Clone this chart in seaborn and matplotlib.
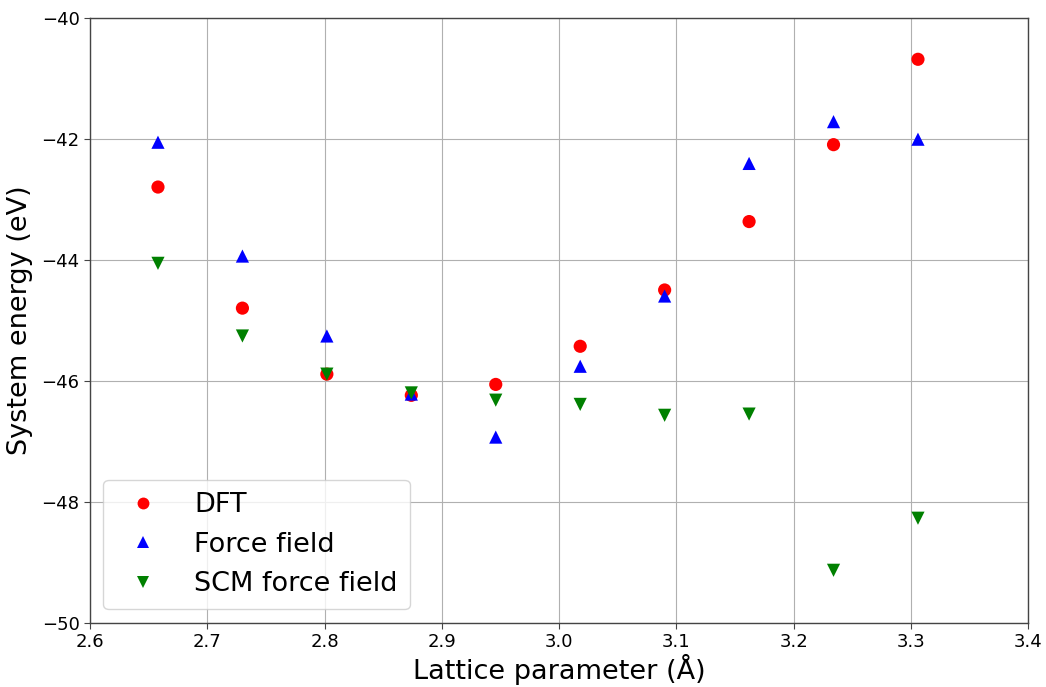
import numpy as np
import pandas as pd
import matplotlib
matplotlib.use("Agg")
import matplotlib.pyplot as plt
import seaborn as sns

lattice = [2.658, 2.730, 2.802, 2.874, 2.946, 3.018, 3.090, 3.162, 3.234, 3.306]
dft = [-42.80, -44.80, -45.89, -46.24, -46.06, -45.43, -44.50, -43.37, -42.10, -40.69]
force_field = [-42.06, -43.94, -45.26, -46.22, -46.93, -45.76, -44.60, -42.41, -41.72, -42.01]
scm_force_field = [-44.06, -45.26, -45.89, -46.20, -46.32, -46.39, -46.57, -46.55, -49.13, -48.27]

series_names = ["DFT", "Force field", "SCM force field"]
df = pd.DataFrame({
    "x": lattice * 3,
    "y": dft + force_field + scm_force_field,
    "series": np.repeat(series_names, len(lattice)),
})

sns.set_style("white")
plt.rcParams["font.family"] = ["DejaVu Sans"]
plt.rcParams["text.color"] = "black"
plt.rcParams["axes.labelcolor"] = "black"
plt.rcParams["xtick.color"] = "black"
plt.rcParams["ytick.color"] = "black"

fig = plt.figure(figsize=(10.46, 6.87), dpi=100)
ax = fig.add_axes([0.086, 0.0932, 0.897, 0.8813])

sns.scatterplot(
    data=df, x="x", y="y", hue="series", style="series",
    hue_order=series_names, style_order=series_names,
    palette={"DFT": "red", "Force field": "blue", "SCM force field": "green"},
    markers={"DFT": "o", "Force field": "^", "SCM force field": "v"},
    s=90, linewidth=0, ax=ax, zorder=3,
)

ax.set_xlim(2.6, 3.4)
ax.set_ylim(-50, -40)
ax.set_xticks(np.arange(2.6, 3.41, 0.1))
ax.set_yticks(np.arange(-50, -39, 2))
ax.grid(True, color="#b0b0b0", linewidth=0.8)
ax.set_axisbelow(True)
for sp in ax.spines.values():
    sp.set_color("#444444")
    sp.set_linewidth(1.0)
ax.tick_params(axis="both", labelsize=13, direction="out", length=4,
               color="#444444", labelcolor="black", left=True, bottom=True)

ax.set_xlabel("Lattice parameter (Å)", fontsize=19.5, labelpad=2)
ax.set_ylabel("System energy (eV)", fontsize=19.5, labelpad=6)

leg = ax.legend(loc="lower left", fontsize=19.5, markerscale=0.9, frameon=True,
                borderpad=0.45, handletextpad=0.9, labelspacing=0.5)
leg.get_frame().set_edgecolor("#cccccc")
for t in leg.get_texts():
    t.set_color("black")

fig.savefig("out.png", dpi=100)
